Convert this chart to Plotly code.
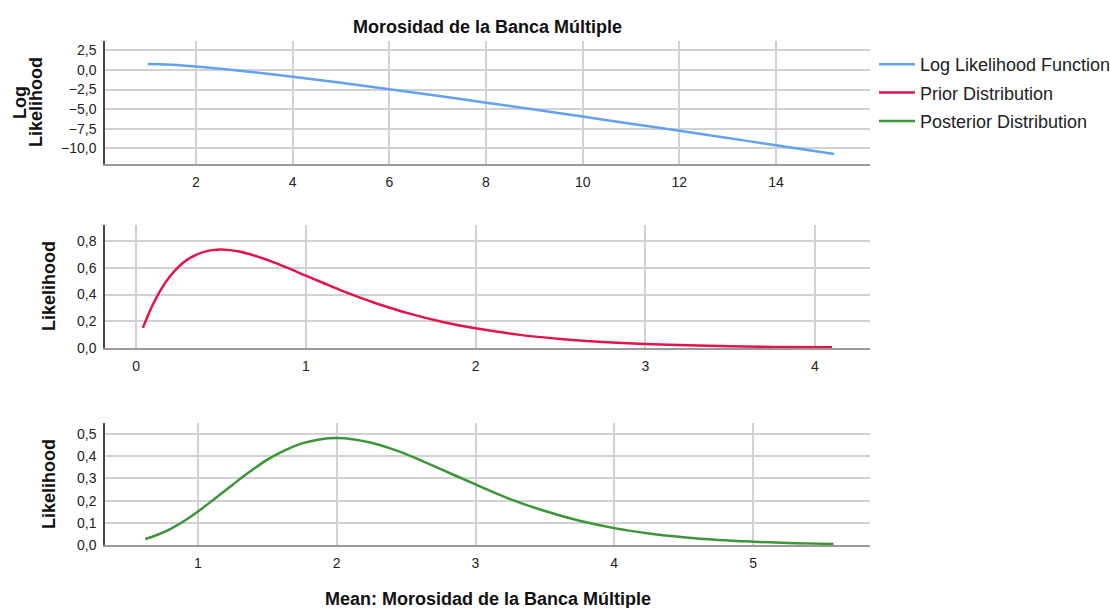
import plotly.graph_objects as go

# ---------------- data ----------------
ll_x = [1.0, 1.25, 1.5, 2.0, 2.5, 3.0, 4.0, 5.0, 6.0, 7.0, 8.0, 9.0, 10.0, 11.0, 12.0, 13.0, 14.0, 15.2]
ll_y = [0.75, 0.73, 0.66, 0.44, 0.17, -0.15, -0.86, -1.64, -2.46, -3.30, -4.17, -5.05, -5.95, -6.85, -7.77, -8.68, -9.61, -10.73]

prior_x = [0.04, 0.07, 0.1, 0.15, 0.2, 0.25, 0.3, 0.35, 0.4, 0.45, 0.5, 0.55, 0.6, 0.7, 0.8, 0.9, 1.0, 1.1, 1.2, 1.3, 1.4,
           1.5, 1.6, 1.8, 2.0, 2.25, 2.5, 2.75, 3.0, 3.25, 3.5, 3.75, 4.1]
prior_y = [0.151, 0.244, 0.327, 0.444, 0.536, 0.607, 0.659, 0.695, 0.719, 0.732, 0.736, 0.732, 0.723, 0.690, 0.646,
           0.595, 0.541, 0.488, 0.435, 0.386, 0.340, 0.299, 0.261, 0.197, 0.147, 0.100, 0.067, 0.045, 0.030, 0.020,
           0.013, 0.008, 0.005]

post_x = [0.62, 0.7, 0.8, 0.9, 1.0, 1.125, 1.25, 1.375, 1.5, 1.625, 1.75, 1.875, 2.0, 2.125, 2.25, 2.375, 2.5, 2.75,
          3.0, 3.25, 3.5, 3.75, 4.0, 4.25, 4.5, 4.75, 5.0, 5.25, 5.58]
post_y = [0.027, 0.044, 0.072, 0.108, 0.151, 0.211, 0.272, 0.331, 0.385, 0.427, 0.458, 0.476, 0.482, 0.476, 0.461,
          0.438, 0.410, 0.342, 0.273, 0.207, 0.153, 0.109, 0.076, 0.052, 0.035, 0.023, 0.015, 0.009, 0.005]

title = "Morosidad de la Banca Múltiple"
x_title = "Mean: Morosidad de la Banca Múltiple"
y_titles = ["Log", "Likelihood", "Likelihood", "Likelihood"]
series_names = ["Log Likelihood Function", "Prior Distribution", "Posterior Distribution"]
colors = ["#62a2f2", "#e3134b", "#3b9638"]

# ---------------- figure ----------------
FONT = "Liberation Sans, Arial, sans-serif"
fig = go.Figure()
fig.add_trace(go.Scatter(x=ll_x, y=ll_y, mode="lines", name=series_names[0],
                         line=dict(color=colors[0], width=2.5, shape="spline"),
                         xaxis="x", yaxis="y", legendgroup="a"))
fig.add_trace(go.Scatter(x=prior_x, y=prior_y, mode="lines", name=series_names[1],
                         line=dict(color=colors[1], width=2.5, shape="spline"),
                         xaxis="x2", yaxis="y2", legendgroup="b"))
fig.add_trace(go.Scatter(x=post_x, y=post_y, mode="lines", name=series_names[2],
                         line=dict(color=colors[2], width=2.5, shape="spline"),
                         xaxis="x3", yaxis="y3", legendgroup="c"))

L, R, T, B = 105, 240, 41, 63
W, H = 1110, 608
PH = H - T - B
PW = W - L - R

def py(p):
    return 1 - (p - T) / PH

def px(p):
    return (p - L) / PW

grid = "#d2d2d2"
common_x = dict(showgrid=True, gridcolor=grid, gridwidth=1.5, zeroline=False,
                showline=True, linecolor="#9a9a9a", linewidth=2,
                ticks="outside", ticklen=4, tickcolor="rgba(0,0,0,0)",
                tickfont=dict(family=FONT, size=14, color="#222"))
common_y = dict(showgrid=True, gridcolor=grid, gridwidth=1.5, zeroline=False,
                showline=True, linecolor="#444", linewidth=1.5,
                ticks="outside", ticklen=4, tickcolor="rgba(0,0,0,0)",
                tickfont=dict(family=FONT, size=14, color="#222"), tickformat=".1f")

fig.update_layout(
    width=W, height=H,
    margin=dict(l=L, r=R, t=T, b=B, autoexpand=False),
    paper_bgcolor="white", plot_bgcolor="white",
    separators=",.",
    showlegend=True,
    title=dict(text="<b>" + title + "</b>", x=0.5, xref="paper", y=1 - 27 / H, yref="container",
               xanchor="center", yanchor="middle",
               font=dict(family=FONT, size=18, color="#111")),
    legend=dict(x=px(874), y=py(46), xanchor="left", yanchor="top", tracegroupgap=2, itemwidth=36,
                font=dict(family=FONT, size=18, color="#222"), bgcolor="rgba(0,0,0,0)"),
    xaxis=dict(domain=[0, 1], anchor="y", range=[0.117, 15.945], dtick=2, tick0=0, **common_x),
    yaxis=dict(domain=[py(164), py(41)], anchor="x", range=[-12.0, 3.7], dtick=2.5, tick0=0, **common_y),
    xaxis2=dict(domain=[0, 1], anchor="y2", range=[-0.183, 4.324], dtick=1, tick0=0, **common_x),
    yaxis2=dict(domain=[py(348), py(225)], anchor="x2", range=[0, 0.92], dtick=0.2, tick0=0, **common_y),
    xaxis3=dict(domain=[0, 1], anchor="y3", range=[0.330, 5.843], dtick=1, tick0=0, **common_x),
    yaxis3=dict(domain=[py(545), py(423)], anchor="x3", range=[0, 0.55], dtick=0.1, tick0=0, **common_y),
)

ann_font = dict(family=FONT, size=18, color="#111")
ypos = [(20, 103), (36, 102), (49, 286), (49, 484)]
for txt, (ax_, ay_) in zip(y_titles, ypos):
    fig.add_annotation(text="<b>" + txt + "</b>", x=px(ax_), y=py(ay_), xref="paper", yref="paper",
                       textangle=-90, showarrow=False, xanchor="center", yanchor="middle", font=ann_font)
fig.add_annotation(text="<b>" + x_title + "</b>", x=0.5, y=py(599), xref="paper", yref="paper",
                   showarrow=False, xanchor="center", yanchor="middle", font=ann_font)

fig.write_html("out.html")
